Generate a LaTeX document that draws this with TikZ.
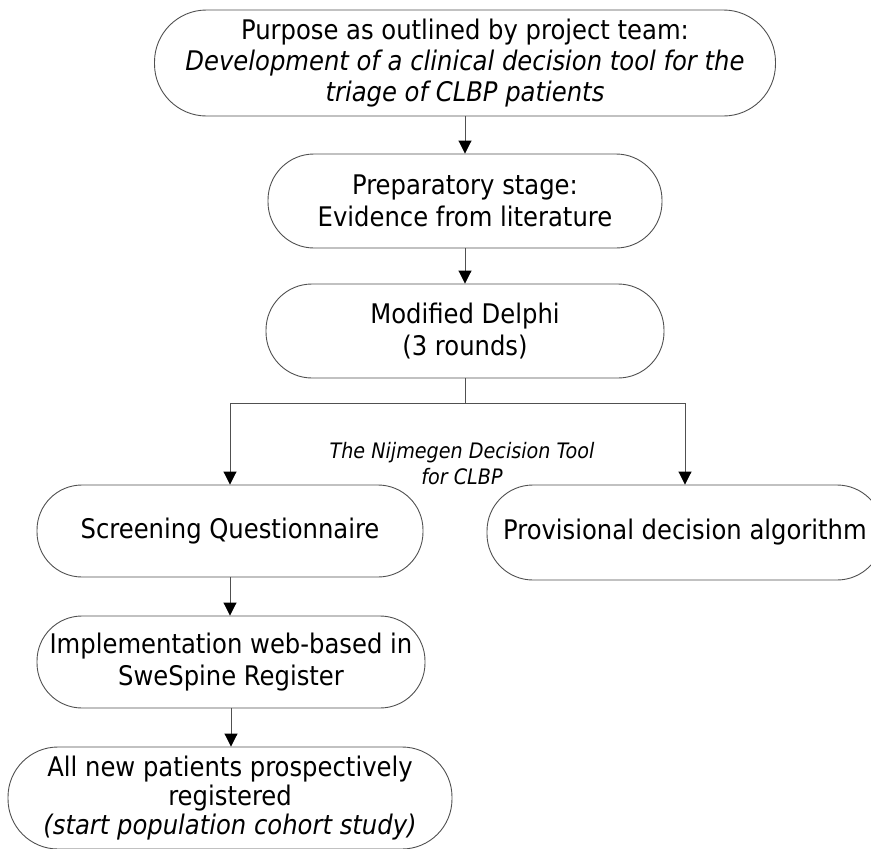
\documentclass[tikz,border=0pt]{standalone}
\usepackage{fontspec}
\setmainfont{DejaVu Sans Condensed}
\usetikzlibrary{arrows.meta}
\definecolor{edgegray}{HTML}{505050}
\tikzset{
  box/.style={draw=edgegray, line width=0.9pt, align=center, inner sep=0pt,
    font=\fontsize{27}{32}\selectfont},
  conn/.style={draw=edgegray, line width=0.9pt,
    -{Triangle[width=13pt,length=13pt,color=black]}},
  plainline/.style={draw=edgegray, line width=0.9pt},
  lbl/.style={align=center, inner sep=0pt, font=\fontsize{21.3}{26}\selectfont\itshape}
}
\begin{document}
\begin{tikzpicture}[x=1pt,y=-1pt]
\clip (0,0) rectangle (871,849);
\node[box, minimum width=621pt, minimum height=106pt, rounded corners=52pt,
  font=\fontsize{27}{31}\selectfont] (purpose) at (465,63)
  {Purpose as outlined by project team:\\\textit{Development of a clinical decision tool for the}\\\textit{triage of CLBP patients}};
\node[box, minimum width=394pt, minimum height=94pt, rounded corners=46pt] (prep) at (465,201)
  {Preparatory stage:\\Evidence from literature};
\node[box, minimum width=398pt, minimum height=94pt, rounded corners=46pt] (delphi) at (465,331)
  {Modified Delphi\\(3 rounds)};
\node[box, minimum width=386pt, minimum height=92pt, rounded corners=45pt] (screen) at (230,531)
  {Screening Questionnaire};
\node[box, minimum width=396pt, minimum height=95pt, rounded corners=46pt] (algo) at (685,532.5)
  {Provisional decision algorithm};
\node[box, minimum width=388pt, minimum height=92pt, rounded corners=45pt] (impl) at (231,662)
  {Implementation web-based in\\SweSpine Register};
\node[box, minimum width=444pt, minimum height=102pt, rounded corners=50pt,
  font=\fontsize{27}{29}\selectfont] (all) at (230,798)
  {All new patients prospectively\\registered\\\textit{(start population cohort study)}};
\node[lbl] (tool) at (462,464) {The Nijmegen Decision Tool\\for CLBP};
\coordinate (split) at (465,403);
\draw[conn] (purpose) -- (prep);
\draw[conn] (prep) -- (delphi);
\draw[plainline] (delphi.south) -- (split);
\draw[conn] (split) -| (screen.north);
\draw[conn] (split) -| (algo.north);
\draw[conn] (screen) -- (screen.south |- impl.north);
\draw[conn] (impl.south) -- (impl.south |- all.north);
\end{tikzpicture}
\end{document}
